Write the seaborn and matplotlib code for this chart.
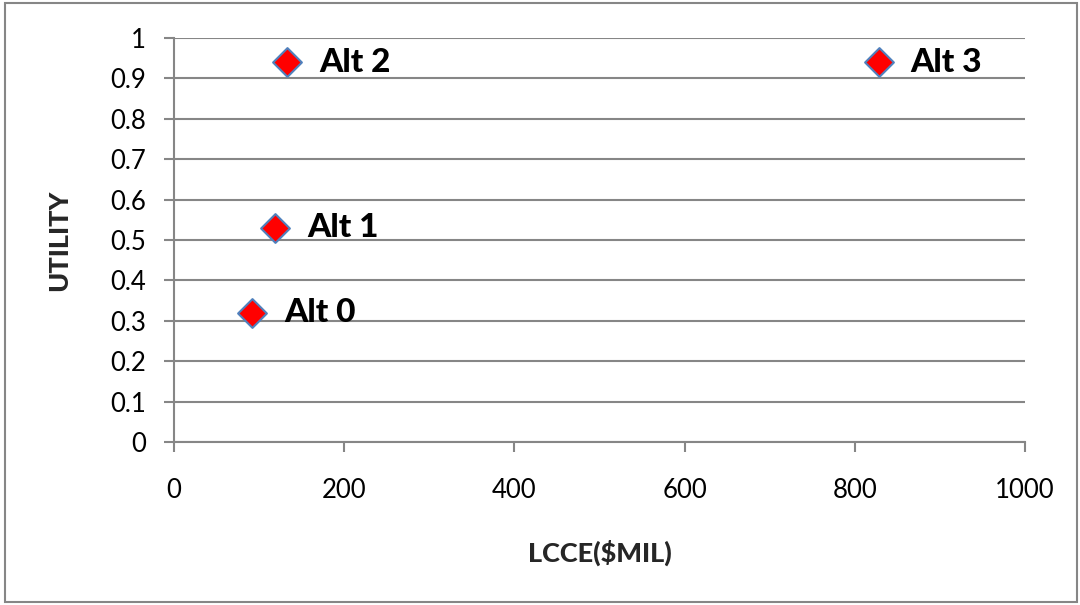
import matplotlib
matplotlib.use("Agg")
import matplotlib.pyplot as plt
from matplotlib.patches import Rectangle
import pandas as pd
import seaborn as sns

# values
alternatives = ["Alt 0", "Alt 1", "Alt 2", "Alt 3"]
lcce = [92, 119, 133, 828]
utility = [0.32, 0.53, 0.94, 0.94]

x_ticks = [0, 200, 400, 600, 800, 1000]
y_ticks = [0, 0.1, 0.2, 0.3, 0.4, 0.5, 0.6, 0.7, 0.8, 0.9, 1]
y_tick_labels = ["0", "0.1", "0.2", "0.3", "0.4", "0.5", "0.6", "0.7", "0.8", "0.9", "1"]

df = pd.DataFrame({"alt": alternatives, "lcce": lcce, "utility": utility})

sns.set_theme(style="white")
plt.rcParams["font.family"] = ["Lato", "DejaVu Sans"]

grey = "#868686"

fig = plt.figure(figsize=(10.8, 6.05), dpi=100)
ax = fig.add_axes([174 / 1080, 1 - 442 / 605, (1025 - 174) / 1080, (442 - 38) / 605])

sns.scatterplot(data=df, x="lcce", y="utility", marker="D", s=215,
                color="#ff0000", edgecolor="#4f81bd", linewidth=1.5,
                zorder=5, clip_on=False, ax=ax)

for name, xv, yv in zip(df["alt"], df["lcce"], df["utility"]):
    ax.annotate(name, (xv, yv), xytext=(23, 0), textcoords="offset points",
                va="center", ha="left", fontsize=24, fontweight="black",
                color="black", zorder=6)

ax.set_xlim(0, 1000)
ax.set_ylim(0, 1)
ax.set_xticks(x_ticks)
ax.set_yticks(y_ticks)
ax.set_yticklabels(y_tick_labels)

ax.grid(axis="y", color=grey, linewidth=1.5)
ax.set_axisbelow(True)
for side in ["top", "right"]:
    ax.spines[side].set_visible(False)
for side in ["left", "bottom"]:
    ax.spines[side].set_color(grey)
    ax.spines[side].set_linewidth(1.5)

ax.tick_params(axis="both", which="major", length=7, width=1.5, color=grey,
               direction="out", labelsize=18.5, labelcolor="black",
               left=True, bottom=True)
ax.tick_params(axis="x", pad=19)
ax.tick_params(axis="y", pad=13)

ax.set_xlabel("LCCE($MIL)", fontsize=19.5, fontweight="black", labelpad=26)
ax.set_ylabel("UTILITY", fontsize=19.5, fontweight="black", labelpad=28)

# outer chart border
fig.patches.append(Rectangle((5 / 1080, 3 / 605), 1072 / 1080, 599 / 605,
                             transform=fig.transFigure, fill=False,
                             edgecolor=grey, linewidth=1.5))

fig.savefig("out.png", dpi=100)
